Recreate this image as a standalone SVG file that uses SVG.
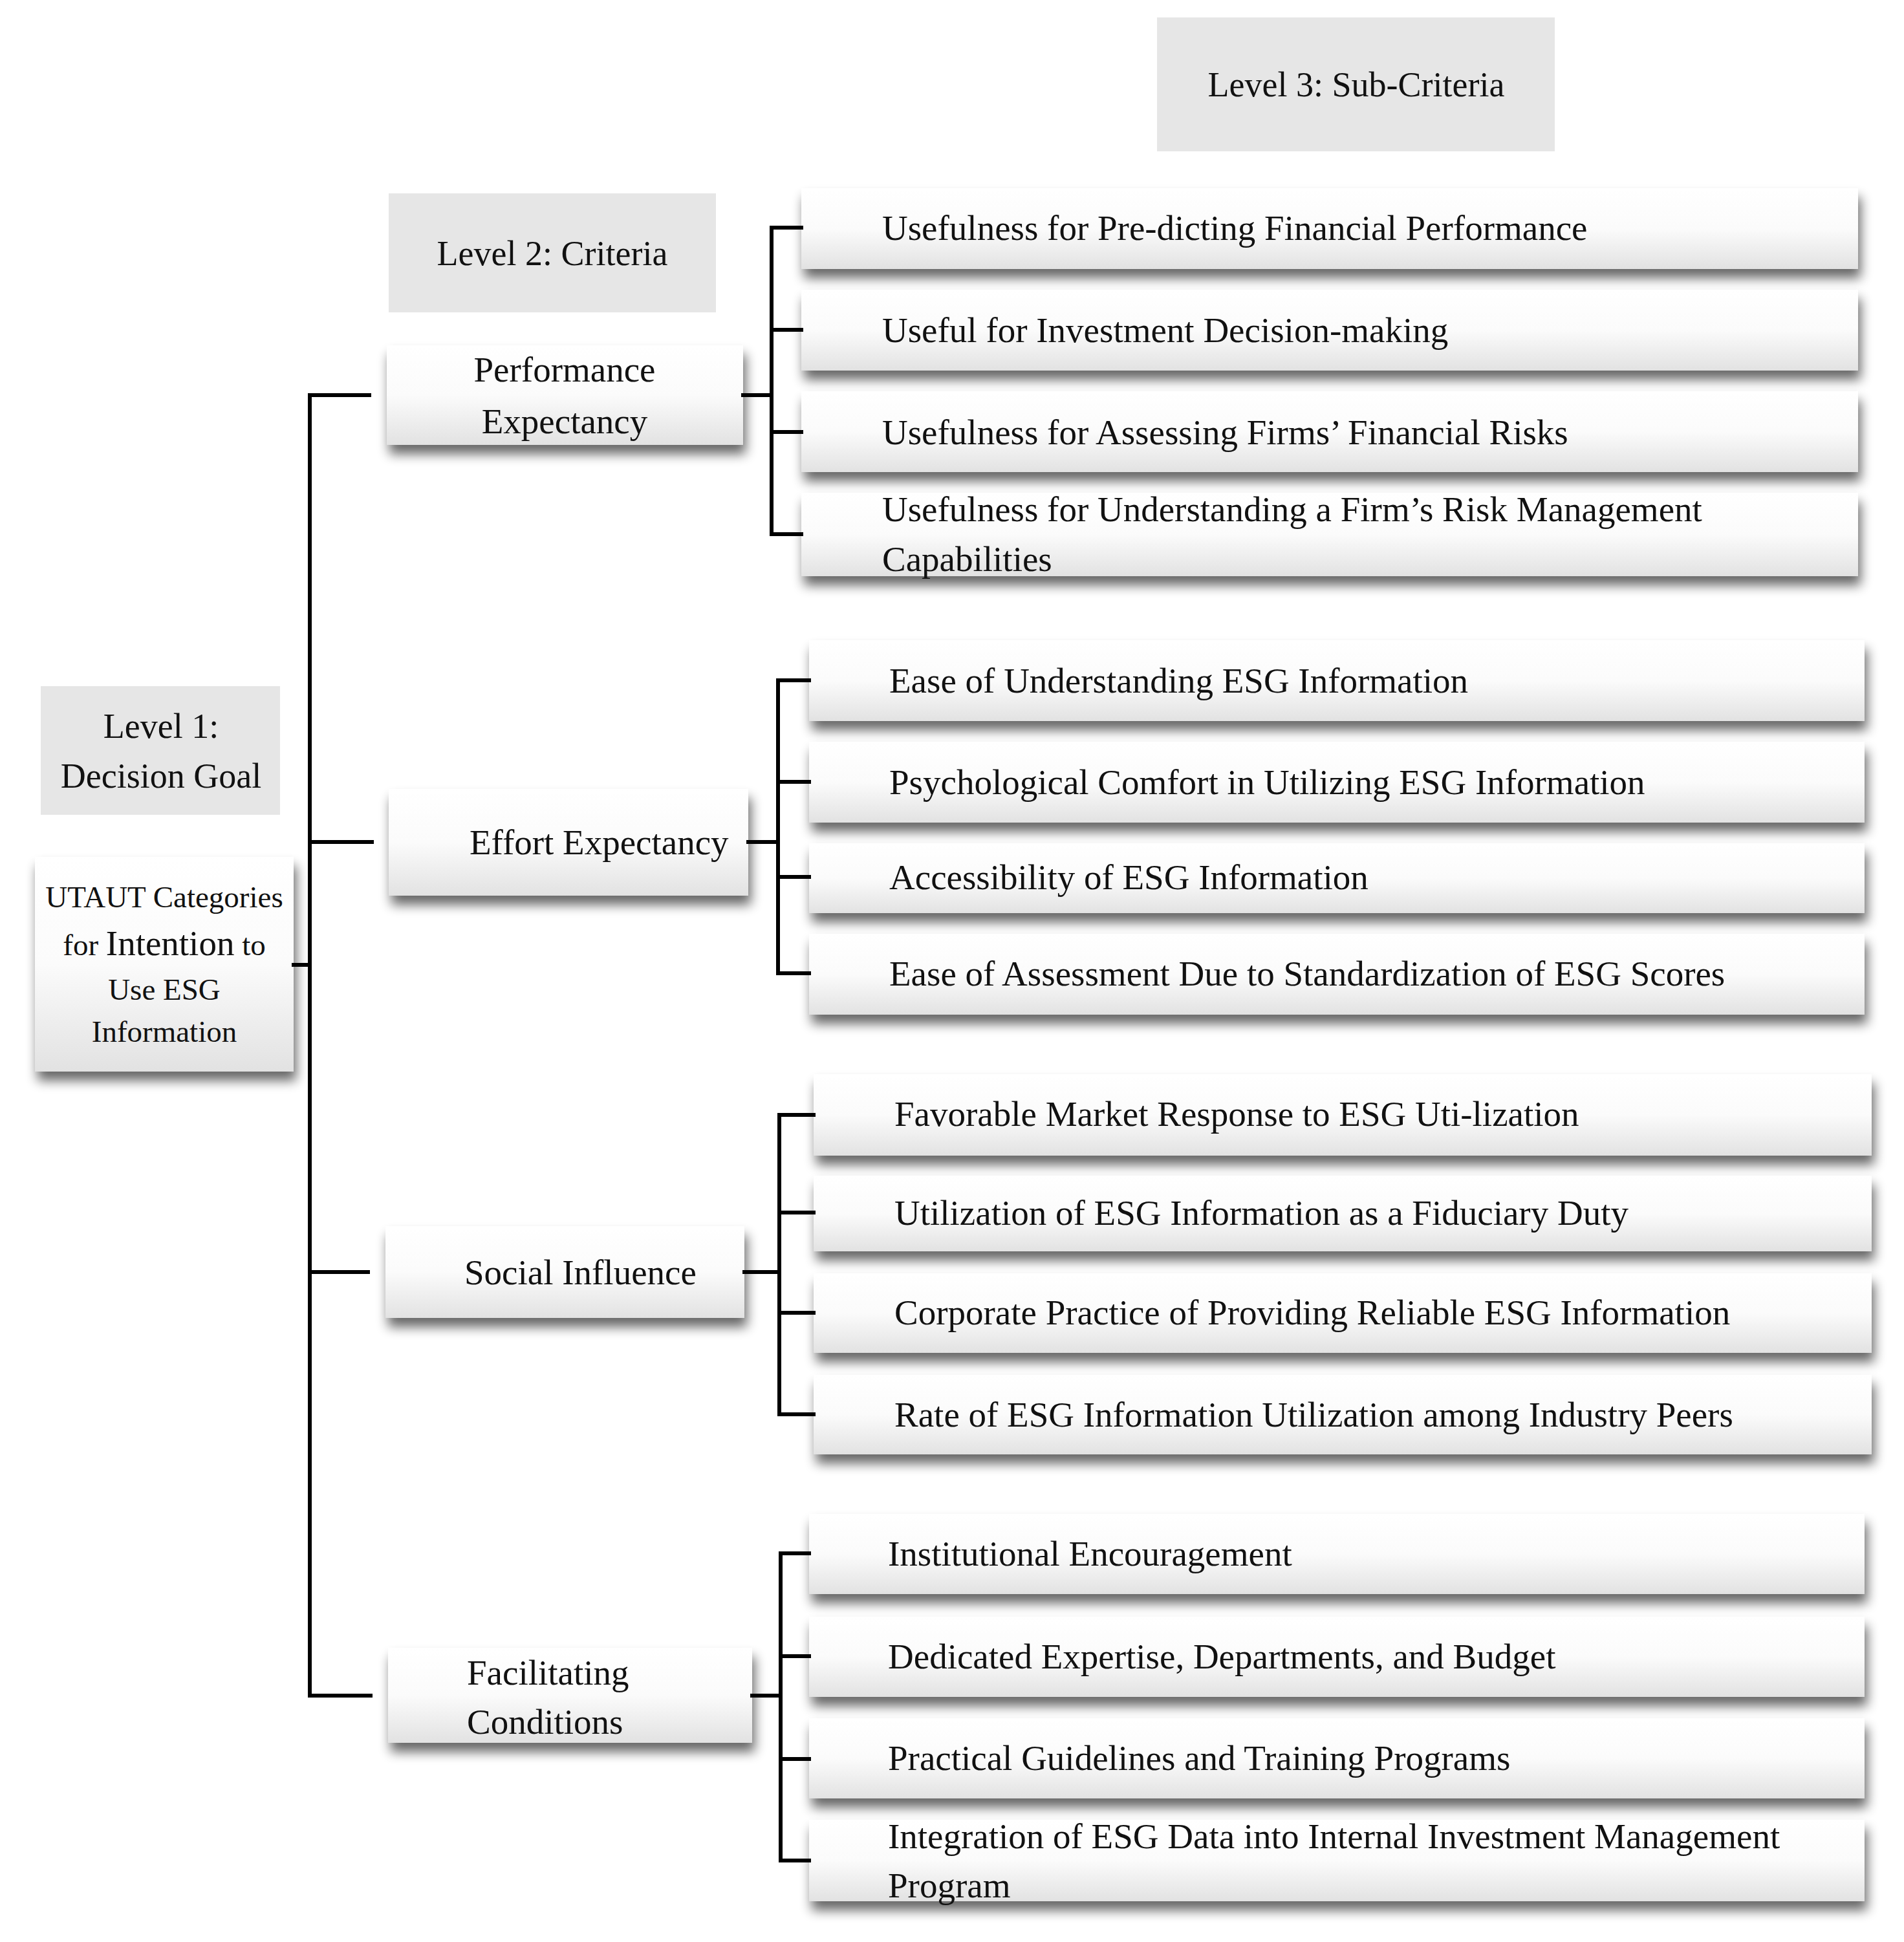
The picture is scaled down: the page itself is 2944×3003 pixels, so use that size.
<svg xmlns="http://www.w3.org/2000/svg" width="2944" height="3003" viewBox="0 0 2944 3003">
<defs>
<linearGradient id="g" x1="0" y1="0" x2="0" y2="1">
<stop offset="0" stop-color="#ffffff"/>
<stop offset="0.5" stop-color="#fbfbfb"/>
<stop offset="1" stop-color="#e2e2e2"/>
</linearGradient>
<filter id="sh" x="-10%" y="-40%" width="120%" height="190%">
<feGaussianBlur in="SourceAlpha" stdDeviation="9"/>
<feOffset dx="4" dy="14" result="b"/>
<feComponentTransfer><feFuncA type="linear" slope="0.6"/></feComponentTransfer>
<feMerge><feMergeNode/><feMergeNode in="SourceGraphic"/></feMerge>
</filter>
<style>
.box{fill:url(#g);filter:url(#sh)}
.lvl{fill:#e6e6e6}
text{font-family:"Liberation Serif","Times New Roman",serif;fill:#111}
.t{font-size:55px}
.l{font-size:54px}
.s{font-size:47px}
.c{text-anchor:middle}
.ln{stroke:#000;stroke-width:6;fill:none;stroke-linecap:square}
</style>
</defs>
<rect width="2944" height="3003" fill="#fff"/>

<g id="level3"><rect class="lvl" x="1789" y="27" width="615" height="207"/><text class="l c" x="2097" y="149">Level 3: Sub-Criteria</text></g>
<g id="level2"><rect class="lvl" x="601" y="299" width="506" height="184"/><text class="l c" x="854" y="410">Level 2: Criteria</text></g>
<g id="level1"><rect class="lvl" x="63" y="1061" width="370" height="199"/><text class="l c" x="249" y="1141">Level 1:</text><text class="l c" x="249" y="1218">Decision Goal</text></g>

<g id="goal"><rect class="box" x="54" y="1325" width="400" height="332"/>
<text class="s c" x="254" y="1403">UTAUT Categories</text>
<text class="s c" x="254" y="1477">for <tspan style="font-size:55px">Intention</tspan> to</text>
<text class="s c" x="254" y="1546">Use ESG</text>
<text class="s c" x="254" y="1611">Information</text></g>

<g id="pe"><rect class="box" x="598" y="534" width="551" height="154"/><text class="t c" x="873" y="590">Performance</text><text class="t c" x="873" y="670">Expectancy</text></g>
<g id="ee"><rect class="box" x="601" y="1220" width="556" height="165"/><text class="t" x="726" y="1321">Effort Expectancy</text></g>
<g id="si"><rect class="box" x="596" y="1896" width="555" height="142"/><text class="t" x="718" y="1986">Social Influence</text></g>
<g id="fc"><rect class="box" x="600" y="2548" width="563" height="147"/><text class="t" x="722" y="2605">Facilitating</text><text class="t" x="722" y="2681">Conditions</text></g>

<g id="pe1"><rect class="box" x="1239" y="291" width="1634" height="125"/><text class="t" x="1364" y="371">Usefulness for Pre-dicting Financial Performance</text></g>
<g id="pe2"><rect class="box" x="1239" y="448" width="1634" height="125"/><text class="t" x="1364" y="529">Useful for Investment Decision-making</text></g>
<g id="pe3"><rect class="box" x="1239" y="605" width="1634" height="125"/><text class="t" x="1364" y="687">Usefulness for Assessing Firms’ Financial Risks</text></g>
<g id="pe4"><rect class="box" x="1239" y="762" width="1634" height="129"/><text class="t" x="1364" y="806">Usefulness for Understanding a Firm’s Risk Management</text><text class="t" x="1364" y="883">Capabilities</text></g>

<g id="ee1"><rect class="box" x="1251" y="990" width="1632" height="125"/><text class="t" x="1375" y="1071">Ease of Understanding ESG Information</text></g>
<g id="ee2"><rect class="box" x="1251" y="1147" width="1632" height="125"/><text class="t" x="1375" y="1228">Psychological Comfort in Utilizing ESG Information</text></g>
<g id="ee3"><rect class="box" x="1251" y="1304" width="1632" height="108"/><text class="t" x="1375" y="1375">Accessibility of ESG Information</text></g>
<g id="ee4"><rect class="box" x="1251" y="1444" width="1632" height="125"/><text class="t" x="1375" y="1524">Ease of Assessment Due to Standardization of ESG Scores</text></g>

<g id="si1"><rect class="box" x="1258" y="1661" width="1636" height="126"/><text class="t" x="1383" y="1741">Favorable Market Response to ESG Uti-lization</text></g>
<g id="si2"><rect class="box" x="1258" y="1818" width="1636" height="117"/><text class="t" x="1383" y="1894">Utilization of ESG Information as a Fiduciary Duty</text></g>
<g id="si3"><rect class="box" x="1258" y="1969" width="1636" height="123"/><text class="t" x="1383" y="2048">Corporate Practice of Providing Reliable ESG Information</text></g>
<g id="si4"><rect class="box" x="1258" y="2126" width="1636" height="123"/><text class="t" x="1383" y="2206">Rate of ESG Information Utilization among Industry Peers</text></g>

<g id="fc1"><rect class="box" x="1251" y="2341" width="1632" height="124"/><text class="t" x="1373" y="2421">Institutional Encouragement</text></g>
<g id="fc2"><rect class="box" x="1251" y="2500" width="1632" height="124"/><text class="t" x="1373" y="2580">Dedicated Expertise, Departments, and Budget</text></g>
<g id="fc3"><rect class="box" x="1251" y="2657" width="1632" height="124"/><text class="t" x="1373" y="2737">Practical Guidelines and Training Programs</text></g>
<g id="fc4"><rect class="box" x="1251" y="2814" width="1632" height="126"/><text class="t" x="1373" y="2858">Integration of ESG Data into Internal Investment Management</text><text class="t" x="1373" y="2934">Program</text></g>

<g id="connectors">
<path class="ln" d="M479 611V2622M479 611H571M479 1302H575M479 1967H569M479 2622H573M454 1492H479"/>
<path class="ln" d="M1149 611H1193M1193 352V826M1193 352H1239M1193 510H1239M1193 668H1239M1193 826H1239"/>
<path class="ln" d="M1157 1302H1203M1203 1052V1505M1203 1052H1251M1203 1209H1251M1203 1356H1251M1203 1505H1251"/>
<path class="ln" d="M1151 1967H1205M1205 1724V2187M1205 1724H1258M1205 1875H1258M1205 2030H1258M1205 2187H1258"/>
<path class="ln" d="M1163 2622H1207M1207 2402V2877M1207 2402H1251M1207 2561H1251M1207 2720H1251M1207 2877H1251"/>
</g>
</svg>
